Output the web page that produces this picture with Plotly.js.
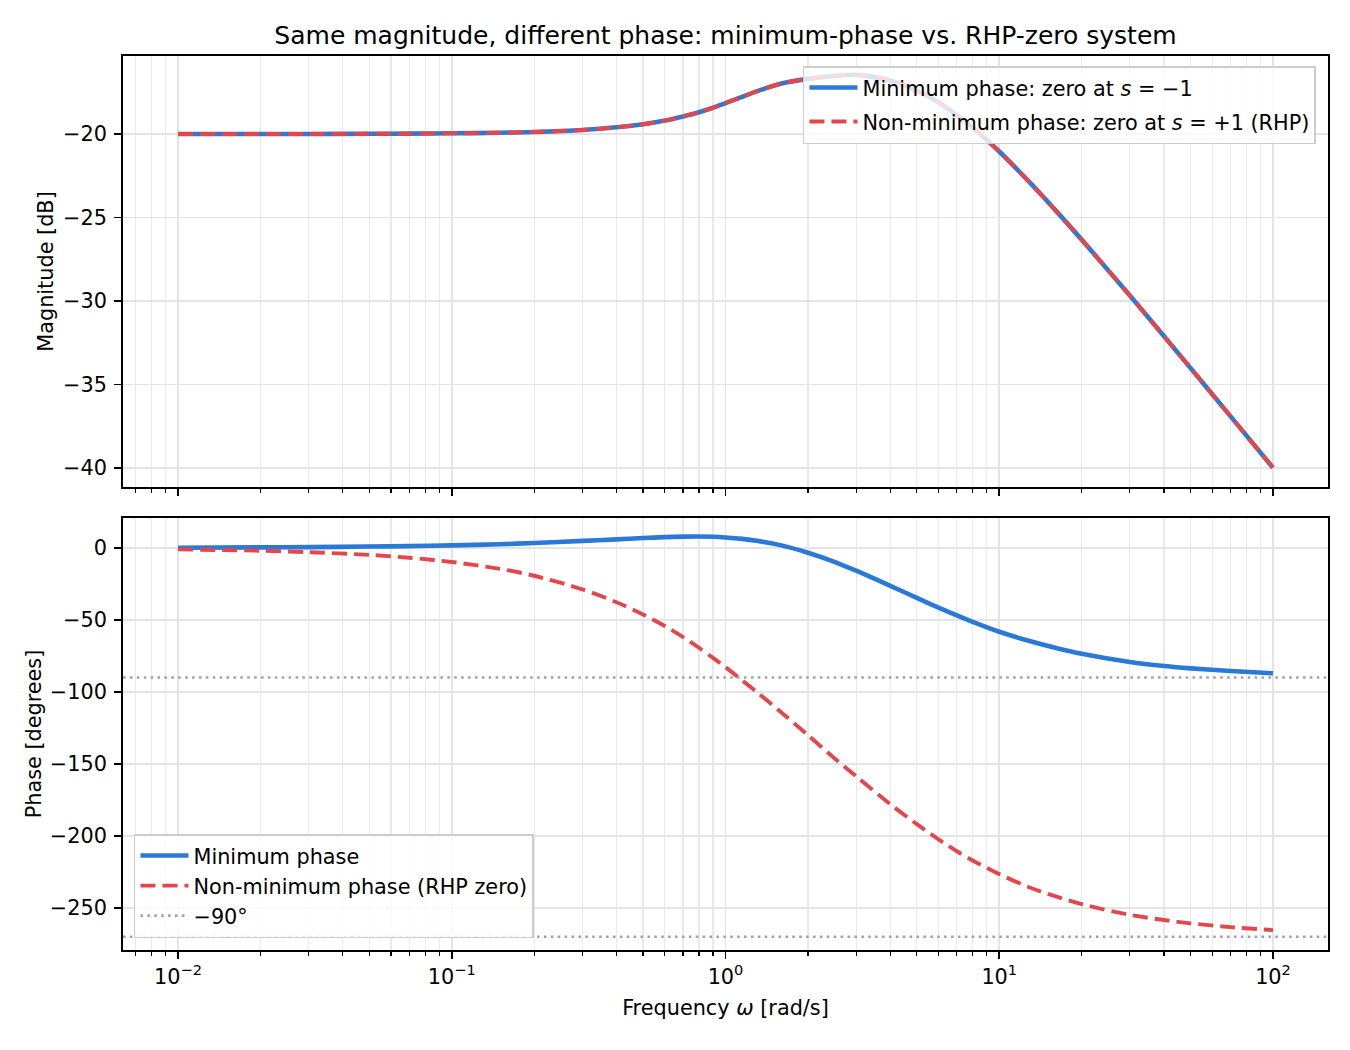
<!DOCTYPE html>
<html>
<head>
<meta charset="utf-8">
<script src="https://cdn.plot.ly/plotly-3.0.1.min.js"></script>
<style>
  html, body { margin: 0; padding: 0; background: #ffffff; }
  #chart { width: 1350px; height: 1050px; }
</style>
</head>
<body>
<div id="chart"></div>
<script>
// Frequency grid [rad/s]
const omega = [0.01, 0.02, 0.03, 0.05, 0.07, 0.1, 0.15, 0.2, 0.3, 0.4, 0.5, 0.6, 0.7, 0.8, 0.9,
               1.0, 1.15, 1.3, 1.6, 2, 2.5, 3, 4, 5, 6, 7, 8, 10, 13, 16, 20, 30, 40, 50, 70, 100];

// Magnitude [dB] — identical for both systems
const magnitudeDb = [-20.00, -20.00, -20.00, -19.99, -19.98, -19.96, -19.93, -19.88, -19.76, -19.60,
                     -19.42, -19.20, -18.95, -18.70, -18.43, -18.15, -17.78, -17.45, -16.98, -16.70,
                     -16.52, -16.46, -16.80, -17.40, -18.10, -18.88, -19.62, -21.05, -22.95, -24.55,
                     -26.33, -29.68, -32.12, -34.03, -36.92, -40.00];

// Phase [degrees]
const phaseMinimum = [0.2, 0.4, 0.6, 1.0, 1.3, 1.8, 2.6, 3.5, 4.9, 6.0, 6.9, 7.5, 7.9, 8.0, 7.8,
                      7.3, 6.3, 5.0, 1.8, -3.3, -9.6, -15.8, -26.3, -34.7, -41.4, -46.8, -51.3, -58.2,
                      -64.8, -69.3, -73.5, -79.2, -82.0, -83.6, -85.4, -87.0];
const phaseNonMinimum = [-1.0, -1.9, -2.9, -4.8, -6.8, -9.7, -14.5, -19.3, -28.7, -37.7, -46.2, -54.2,
                         -61.9, -69.3, -76.3, -82.8, -91.9, -100.0, -114.2, -130.0, -146.0, -158.5,
                         -178.0, -191.8, -202.4, -210.6, -217.1, -226.5, -236.0, -241.8, -247.4, -254.8,
                         -258.4, -260.7, -263.3, -265.4];

// Reference phase levels drawn as dotted horizontal lines
const referencePhases = [-90, -270];
const referenceLabels = ['−90°', null];

// Axis ticks
const xTickValues = [0.01, 0.1, 1, 10, 100];
const xTickLabels = ['10<sup>−2</sup>', '10<sup>−1</sup>', '10<sup>0</sup>', '10<sup>1</sup>', '10<sup>2</sup>'];
const magTickValues = [-40, -35, -30, -25, -20];
const phaseTickValues = [0, -50, -100, -150, -200, -250];

const xRange = [-2.2009, 2.2009];
const magRange = [-41.15, -15.33];
const phaseRange = [-279.2, 20.8];

const BLUE = '#2b79d7';
const RED = '#e4474b';
const GRAY = '#a3a3a3';
const FONT = 'DejaVu Sans, sans-serif';
const FS = 20.8;

const signed = v => String(v).replace('-', '−');

// minor ticks at 2..9 × 10^k inside the visible range
const minorTicks = [];
for (let k = -3; k <= 2; k++) {
  for (let m = 2; m <= 9; m++) {
    const v = m * Math.pow(10, k);
    const lv = Math.log10(v);
    if (lv > xRange[0] && lv < xRange[1]) minorTicks.push(v);
  }
}

function xAxis(anchor, showLabels) {
  return {
    type: 'log', range: xRange, anchor: anchor,
    tickmode: 'array', tickvals: xTickValues, ticktext: xTickLabels,
    showticklabels: showLabels,
    ticks: 'outside', ticklen: 7.3, tickwidth: 1.6, tickcolor: '#000',
    showline: true, linecolor: '#000', linewidth: 1.6, mirror: true,
    showgrid: true, gridcolor: '#e4e4e4', gridwidth: 1.6, zeroline: false,
    minor: {
      tickmode: 'array', tickvals: minorTicks,
      ticks: 'outside', ticklen: 4.2, tickwidth: 1.2, tickcolor: '#000',
      showgrid: true, gridcolor: '#e9e9e9', gridwidth: 1.2
    },
    tickfont: { family: FONT, size: FS, color: '#000' }
  };
}

function yAxis(anchor, domain, range, ticks, title, standoff) {
  return {
    domain: domain, range: range, anchor: anchor,
    tickmode: 'array', tickvals: ticks, ticktext: ticks.map(signed),
    ticks: 'outside', ticklen: 7.3, tickwidth: 1.6, tickcolor: '#000',
    ticklabelstandoff: 3,
    showline: true, linecolor: '#000', linewidth: 1.6, mirror: true,
    showgrid: true, gridcolor: '#e4e4e4', gridwidth: 1.6, zeroline: false,
    tickfont: { family: FONT, size: FS, color: '#000' },
    title: { text: title, font: { family: FONT, size: FS, color: '#000' }, standoff: standoff }
  };
}

const traces = [
  {
    x: omega, y: magnitudeDb, xaxis: 'x', yaxis: 'y', type: 'scatter', mode: 'lines',
    line: { color: BLUE, width: 4.6, shape: 'spline', smoothing: 0.8 },
    name: 'Minimum phase: zero at <i>s</i> = −1', legend: 'legend', legendgroup: 'm1'
  },
  {
    x: omega, y: magnitudeDb, xaxis: 'x', yaxis: 'y', type: 'scatter', mode: 'lines',
    line: { color: RED, width: 3.9, dash: '15px,7px', shape: 'spline', smoothing: 0.8 },
    name: 'Non-minimum phase: zero at <i>s</i> = +1 (RHP)', legend: 'legend', legendgroup: 'm2'
  },
  {
    x: omega, y: phaseMinimum, xaxis: 'x2', yaxis: 'y2', type: 'scatter', mode: 'lines',
    line: { color: BLUE, width: 4.6, shape: 'spline', smoothing: 0.8 },
    name: 'Minimum phase', legend: 'legend2', legendgroup: 'p1'
  },
  {
    x: omega, y: phaseNonMinimum, xaxis: 'x2', yaxis: 'y2', type: 'scatter', mode: 'lines',
    line: { color: RED, width: 3.9, dash: '15px,7px', shape: 'spline', smoothing: 0.8 },
    name: 'Non-minimum phase (RHP zero)', legend: 'legend2', legendgroup: 'p2'
  }
];

const shapes = referencePhases.map((v, i) => ({
  type: 'line', xref: 'x2 domain', x0: 0, x1: 1, yref: 'y2', y0: v, y1: v,
  line: { color: GRAY, width: 2.6, dash: '2.6px,4.3px' }, layer: 'above',
  showlegend: referenceLabels[i] !== null,
  name: referenceLabels[i] || '',
  legend: 'legend2', legendgroup: 'ref' + i
}));

const legendBase = {
  bgcolor: 'rgba(255,255,255,0.8)', bordercolor: '#cccccc', borderwidth: 1.5,
  font: { family: FONT, size: FS, color: '#000' }, xref: 'paper', yref: 'paper',
  itemwidth: 48
};

const layout = {
  width: 1350, height: 1050,
  margin: { l: 123, r: 22, t: 56, b: 100 },
  paper_bgcolor: '#ffffff', plot_bgcolor: '#ffffff',
  font: { family: FONT, size: FS, color: '#000' },
  title: {
    text: 'Same magnitude, different phase: minimum-phase vs. RHP-zero system',
    font: { family: FONT, size: 25, color: '#000' },
    x: 0.5, xref: 'paper', xanchor: 'center', y: 1 - 35 / 1050, yref: 'container', yanchor: 'middle'
  },
  xaxis: xAxis('y', false),
  yaxis: yAxis('x', [0.5179, 1], magRange, magTickValues, 'Magnitude [dB]', 4),
  xaxis2: Object.assign(xAxis('y2', true), {
    title: { text: 'Frequency <i>ω</i> [rad/s]', font: { family: FONT, size: FS, color: '#000' }, standoff: 12 }
  }),
  yaxis2: yAxis('x2', [0, 0.4832], phaseRange, phaseTickValues, 'Phase [degrees]', 2),
  legend: Object.assign({}, legendBase, {
    x: 0.990, y: 0.9888, xanchor: 'right', yanchor: 'top', tracegroupgap: 4
  }),
  legend2: Object.assign({}, legendBase, {
    x: 0.0091, y: 0.0134, xanchor: 'left', yanchor: 'bottom', tracegroupgap: 0
  }),
  shapes: shapes,
  showlegend: true,
  hovermode: false
};

Plotly.newPlot('chart', traces, layout, { staticPlot: true, displayModeBar: false });
</script>
</body>
</html>
